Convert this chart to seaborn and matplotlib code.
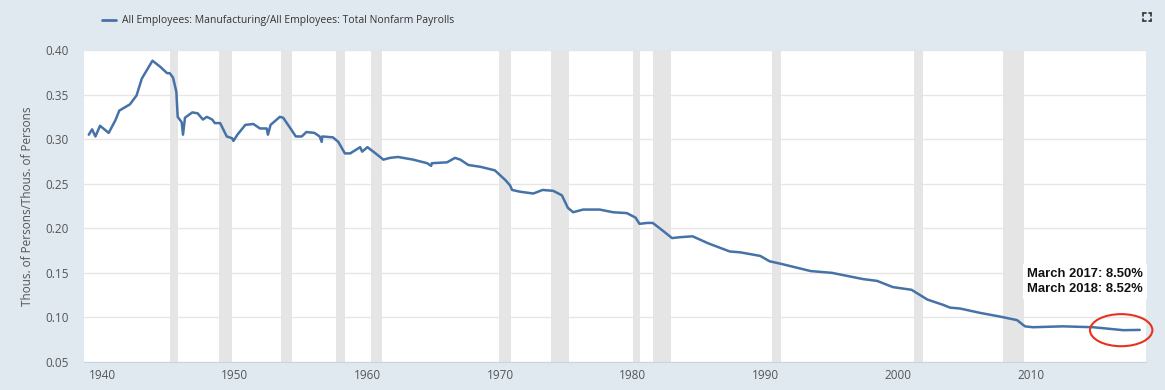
import seaborn as sns
import matplotlib.pyplot as plt
import pandas as pd
from matplotlib.patches import Ellipse
from matplotlib.lines import Line2D

# Manufacturing share of total nonfarm payrolls
years = [1939.0, 1939.25, 1939.5, 1939.85, 1940.5, 1941.0, 1941.3, 1942.1, 1942.6, 1943.0,
         1943.4, 1943.8, 1944.4, 1944.9, 1945.1, 1945.35, 1945.6, 1945.7, 1946.0, 1946.1,
         1946.25, 1946.8, 1947.2, 1947.6, 1947.9, 1948.3, 1948.5, 1948.9, 1949.4, 1949.8,
         1949.9, 1950.2, 1950.8, 1951.4, 1951.9, 1952.4, 1952.5, 1952.7, 1953.4, 1953.65,
         1954.2, 1954.6, 1955.05, 1955.4, 1956.0, 1956.4, 1956.55, 1956.6, 1957.4, 1957.8,
         1958.3, 1958.7, 1959.45, 1959.6, 1960.0, 1960.7, 1961.2, 1961.7, 1962.3, 1963.45,
         1964.5, 1964.8, 1964.85, 1966.0, 1966.6, 1967.0, 1967.6, 1968.5, 1969.6, 1970.4,
         1970.75, 1970.9, 1971.5, 1972.5, 1973.2, 1974.0, 1974.65, 1975.1, 1975.5, 1976.25,
         1977.5, 1978.5, 1979.55, 1980.2, 1980.5, 1981.1, 1981.5, 1982.2, 1982.95, 1983.55,
         1984.5, 1985.7, 1987.3, 1988.1, 1989.6, 1990.3, 1991.2, 1993.4, 1995.0, 1997.35,
         1998.4, 1999.6, 2001.0, 2002.2, 2003.4, 2003.9, 2004.65, 2006.2, 2007.65, 2008.95,
         2009.55, 2010.15, 2012.4, 2014.7, 2016.95, 2018.2]
ratio = [0.305, 0.311, 0.303, 0.315, 0.307, 0.321, 0.332, 0.339, 0.349, 0.368,
         0.378, 0.388, 0.381, 0.374, 0.374, 0.369, 0.353, 0.325, 0.319, 0.305,
         0.324, 0.330, 0.329, 0.322, 0.325, 0.322, 0.318, 0.318, 0.303, 0.301,
         0.298, 0.305, 0.316, 0.317, 0.312, 0.312, 0.305, 0.316, 0.325, 0.324,
         0.312, 0.303, 0.303, 0.308, 0.307, 0.303, 0.297, 0.303, 0.302, 0.297,
         0.284, 0.284, 0.291, 0.286, 0.291, 0.283, 0.277, 0.279, 0.280, 0.277,
         0.273, 0.270, 0.273, 0.274, 0.279, 0.277, 0.271, 0.269, 0.265, 0.254,
         0.248, 0.243, 0.241, 0.239, 0.243, 0.242, 0.237, 0.223, 0.218, 0.221,
         0.221, 0.218, 0.217, 0.212, 0.205, 0.206, 0.206, 0.198, 0.189, 0.190,
         0.191, 0.183, 0.174, 0.173, 0.169, 0.163, 0.160, 0.152, 0.150, 0.143,
         0.141, 0.134, 0.131, 0.120, 0.114, 0.111, 0.110, 0.105, 0.101, 0.097,
         0.090, 0.089, 0.090, 0.089, 0.0857, 0.086]

# NBER recessions
rec_start = [1945.1, 1948.85, 1953.5, 1957.6, 1960.25, 1969.9, 1973.85, 1980.0, 1981.5, 1990.5, 2001.2, 2007.9]
rec_end = [1945.75, 1949.8, 1954.35, 1958.3, 1961.1, 1970.85, 1975.2, 1980.55, 1982.85, 1991.2, 2001.85, 2009.45]

y_ticks = [0.05, 0.10, 0.15, 0.20, 0.25, 0.30, 0.35, 0.40]
x_ticks = [1940, 1950, 1960, 1970, 1980, 1990, 2000, 2010]

series_name = "All Employees: Manufacturing/All Employees: Total Nonfarm Payrolls"
note_lines = ["March 2017: 8.50%", "March 2018: 8.52%"]

df = pd.DataFrame({"year": years, "ratio": ratio})

sns.set_style("white")
plt.rcParams["font.family"] = ["Open Sans", "DejaVu Sans"]

bg = "#e1e9f0"
fig = plt.figure(figsize=(11.65, 3.9), dpi=100, facecolor=bg)
ax = fig.add_axes([0.0721, 0.0718, 0.9116, 0.80])
ax.set_facecolor("white")

ax.grid(axis="y", color="#e6e6e6", linewidth=1)
ax.set_axisbelow(True)

for s, e in zip(rec_start, rec_end):
    ax.axvspan(s, e, color="#e5e5e5", linewidth=0, zorder=1)

sns.lineplot(data=df, x="year", y="ratio", ax=ax, color="#4572a7",
             linewidth=1.8, estimator=None, sort=False, zorder=3)

ax.set_xlim(1938.64, 2018.67)
ax.set_ylim(0.05, 0.40)
ax.set_yticks(y_ticks)
ax.set_yticklabels([f"{v:.2f}" for v in y_ticks])
ax.set_xticks(x_ticks)
ax.set_xlabel("")
ax.set_ylabel("Thous. of Persons/Thous. of Persons", fontsize=8.5, color="#555555", labelpad=8)

for side in ["top", "right", "left"]:
    ax.spines[side].set_visible(False)
ax.spines["bottom"].set_color("#c6d4e3")
ax.tick_params(axis="x", colors="#c6d4e3", length=5, width=1, labelcolor="#555555", labelsize=8.5, pad=0)
ax.tick_params(axis="y", length=0, labelcolor="#555555", labelsize=8.5, pad=11)

# annotation
ax.text(2009.7, 0.1255, "\n".join(note_lines), fontsize=9.4, fontweight="bold",
        family=["Liberation Sans", "DejaVu Sans"], color="#111111", ha="left", va="bottom",
        linespacing=1.25, zorder=4,
        bbox=dict(facecolor="white", edgecolor="none", pad=3))
ax.add_patch(Ellipse((2016.8, 0.0857), 4.7, 0.036, fill=False, edgecolor="#e8321e",
                     linewidth=1.5, zorder=5, clip_on=False))

# legend at top
fig.add_artist(Line2D([102 / 1165, 116 / 1165], [1 - 20 / 390] * 2, color="#4572a7", linewidth=2))
fig.text(122 / 1165, 1 - 20 / 390, series_name, fontsize=7.5, color="#333333", va="center")

# fullscreen icon
cx, cy, d, l = 1147, 17, 4, 2.5
for sx in (-1, 1):
    for sy in (-1, 1):
        x0, y0 = cx + sx * d, cy + sy * d
        fig.add_artist(Line2D([x0 / 1165, (x0 - sx * l) / 1165], [1 - y0 / 390] * 2, color="#333333", linewidth=1.2))
        fig.add_artist(Line2D([x0 / 1165] * 2, [1 - y0 / 390, 1 - (y0 - sy * l) / 390], color="#333333", linewidth=1.2))

fig.savefig("out.png", dpi=100, facecolor=bg)
